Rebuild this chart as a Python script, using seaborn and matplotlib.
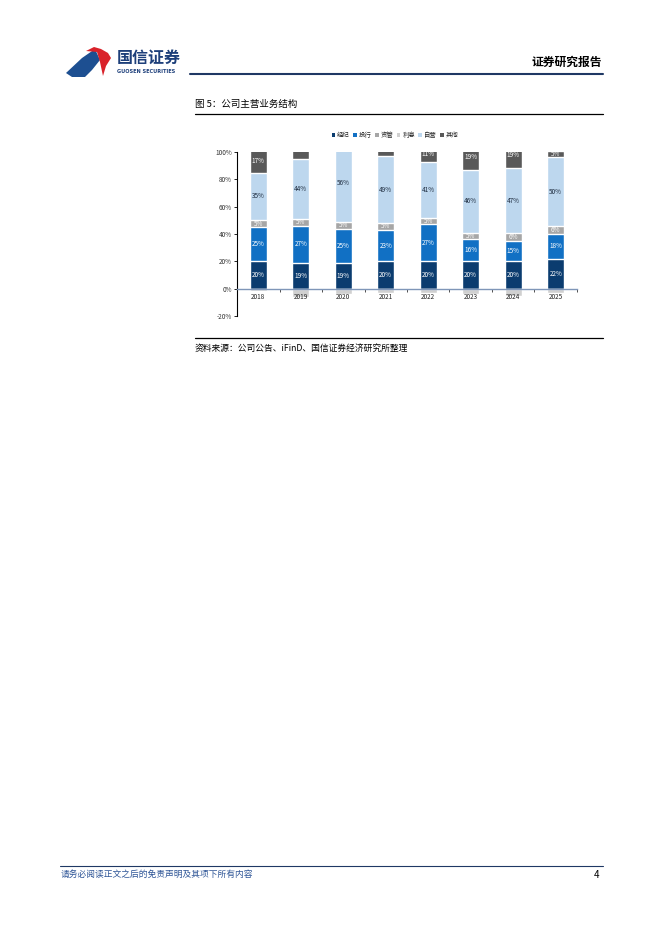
import matplotlib
matplotlib.use("Agg")
import matplotlib.pyplot as plt
import seaborn as sns
import numpy as np
import pandas as pd
from matplotlib.lines import Line2D
from matplotlib.patches import Patch, Polygon

sns.set_theme(style="white")
plt.rcParams['font.family'] = ['Noto Sans CJK SC', 'DejaVu Sans']
plt.rcParams['axes.unicode_minus'] = False

# ---------------- data ----------------
years = ["2018", "2019", "2020", "2021", "2022", "2023", "2024", "2025"]
brokerage = [20, 19, 19, 20, 20, 20, 20, 22]      # 经纪
ib = [25, 27, 25, 23, 27, 16, 15, 18]             # 投行
am = [5, 5, 5, 5, 5, 5, 6, 6]                      # 资管
interest = [-2, -6, -4, -3, -3, -4, -5, -3]        # 利息
prop = [35, 44, 56, 49, 41, 46, 47, 50]            # 自营
other = [17, 11, 0, 7, 11, 19, 19, 5]              # 其他

series_names = ["经纪", "投行", "资管", "利息", "自营", "其他"]
colors = {"经纪": "#0b3c6f", "投行": "#1170c4", "资管": "#a6a6a6",
          "利息": "#d0d0d0", "自营": "#bdd7ee", "其他": "#595959"}
label_colors = {"经纪": "white", "投行": "white", "资管": "white",
                "利息": "white", "自营": "#1f2d40", "其他": "white"}

W, H = 662, 936
fig = plt.figure(figsize=(W / 100, H / 100), dpi=100)

def fx(x):
    return x / W

def fy(y):
    return 1 - y / H

# ---------------- chart ----------------
ax = fig.add_axes([fx(237), fy(316), fx(577) - fx(237), (316 - 152) / H])
pos_order = ["经纪", "投行", "资管", "自营", "其他"]
pos_vals = {"经纪": brokerage, "投行": ib, "资管": am, "自营": prop, "其他": other}
cum = np.zeros(len(years))
bottoms = {}
tops = {}
for n in pos_order:
    bottoms[n] = cum.copy()
    cum = cum + np.array(pos_vals[n], dtype=float)
    tops[n] = cum.copy()

# draw cumulative bars from tallest to shortest
for n in reversed(pos_order):
    df = pd.DataFrame({"year": years, "v": tops[n]})
    sns.barplot(data=df, x="year", y="v", color=colors[n], width=0.4,
                saturation=1, ax=ax, order=years, zorder=1)
df_neg = pd.DataFrame({"year": years, "v": interest})
sns.barplot(data=df_neg, x="year", y="v", color=colors["利息"], width=0.4,
            saturation=1, ax=ax, order=years, zorder=1)

ax.set_xlim(-0.5, 7.5)
ax.set_ylim(-20, 100)
ax.set_xlabel("")
ax.set_ylabel("")
ax.set_axisbelow(False)

# data labels
for n in pos_order:
    for i in range(len(years)):
        v = pos_vals[n][i]
        if v <= 0:
            continue
        c = (bottoms[n][i] + tops[n][i]) / 2
        if c >= 100:
            continue
        ax.text(i, c, f"{v}%", ha="center", va="center", fontsize=4.6,
                color=label_colors[n])

# axes styling
ax.spines["top"].set_visible(False)
ax.spines["right"].set_visible(False)
ax.spines["left"].set_color("black")
ax.spines["left"].set_linewidth(0.8)
ax.spines["bottom"].set_position(("data", 0))
ax.spines["bottom"].set_color("#7f96b8")
ax.spines["bottom"].set_linewidth(1.0)
ax.spines["bottom"].set_zorder(3)
ax.set_yticks([-20, 0, 20, 40, 60, 80, 100])
ax.set_yticklabels([f"{t}%" for t in [-20, 0, 20, 40, 60, 80, 100]], fontsize=4.6,
                   color="#333333")
ax.tick_params(axis="y", which="major", left=True, length=2, width=0.6, pad=1.5,
               direction="out", color="black")
ax.set_xticks(range(len(years)))
ax.set_xticklabels(years, fontsize=4.6, color="#222222")
ax.tick_params(axis="x", which="major", bottom=True, length=0, pad=3)
ax.set_xticks(np.arange(0.5, 8, 1), minor=True)
ax.tick_params(axis="x", which="minor", bottom=True, length=2, width=0.6,
               direction="out", color="#333333")
for lbl in ax.get_xticklabels():
    lbl.set_zorder(5)
ax.grid(False)
ax.set_facecolor("none")

# legend
handles = [Patch(facecolor=colors[n], edgecolor="none", label=n) for n in series_names]
fig.legend(handles=handles, loc="center", bbox_to_anchor=(fx(395), fy(135)),
           ncol=6, frameon=False, fontsize=4.6, handlelength=0.6, handleheight=0.6,
           handletextpad=0.3, columnspacing=0.5, borderaxespad=0)

# ---------------- page decoration ----------------
# logo
blue_poly = Polygon([(fx(66), fy(73)), (fx(82), fy(58)), (fx(95), fy(49)),
                     (fx(100), fy(60)), (fx(92), fy(70)), (fx(85), fy(77)),
                     (fx(72), fy(77))], closed=True, transform=fig.transFigure,
                    facecolor="#1d4f91", edgecolor="none")
red_poly = Polygon([(fx(86), fy(51)), (fx(94), fy(47)), (fx(101), fy(49)),
                    (fx(108), fy(53)), (fx(111), fy(58)), (fx(106), fy(66)),
                    (fx(103), fy(76)), (fx(100), fy(62)), (fx(97), fy(52))],
                   closed=True, transform=fig.transFigure,
                   facecolor="#d9222a", edgecolor="none")
fig.add_artist(blue_poly)
fig.add_artist(red_poly)
fig.text(fx(117), fy(58), "国信证券", fontsize=11.5, color="#1d3f7a",
         ha="left", va="center", fontweight="bold")
fig.text(fx(117), fy(71.5), "GUOSEN SECURITIES", fontsize=3.6, color="#1d3f7a",
         ha="left", va="center", fontweight="bold", family=["DejaVu Sans"])
fig.text(fx(602), fy(62), "证券研究报告", fontsize=8.5, color="black",
         ha="right", va="center", fontweight="bold")
fig.add_artist(Line2D([fx(190), fx(603)], [fy(74), fy(74)], color="#1f3864",
                      linewidth=1.5, transform=fig.transFigure))

# figure title
fig.text(fx(195), fy(104), "图 5：公司主营业务结构", fontsize=6.8, color="black",
         ha="left", va="center")
fig.add_artist(Line2D([fx(195), fx(603)], [fy(114), fy(114)], color="black",
                      linewidth=0.9, transform=fig.transFigure))

# source
fig.add_artist(Line2D([fx(195), fx(603)], [fy(338), fy(338)], color="black",
                      linewidth=0.9, transform=fig.transFigure))
fig.text(fx(195), fy(348), "资料来源：公司公告、iFinD、国信证券经济研究所整理", fontsize=6.3,
         color="black", ha="left", va="center")

# footer
fig.add_artist(Line2D([fx(60), fx(603)], [fy(866), fy(866)], color="#1f3864",
                      linewidth=0.8, transform=fig.transFigure))
fig.text(fx(61), fy(874), "请务必阅读正文之后的免责声明及其项下所有内容", fontsize=6.3,
         color="#2e5597", ha="left", va="center", style="italic")
fig.text(fx(599), fy(875), "4", fontsize=7, color="black", ha="right", va="center")

fig.savefig("out.png", dpi=100)
